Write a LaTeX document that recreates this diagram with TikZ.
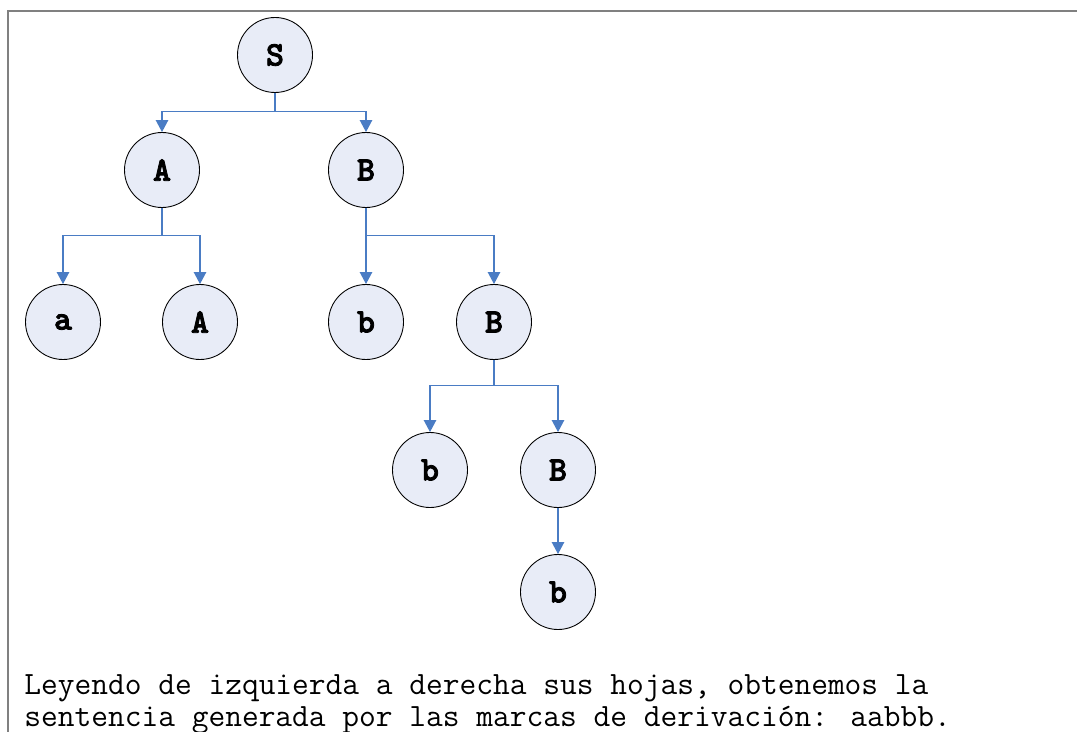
\documentclass[tikz,border=0pt]{standalone}
\usepackage{fontspec}
\newfontfamily\labelfont[FakeBold=2.4]{Latin Modern Mono Light}
\usetikzlibrary{arrows.meta}

\definecolor{nodefill}{HTML}{E8ECF7}
\definecolor{linkblue}{HTML}{4A7CC4}
\definecolor{framegray}{HTML}{808080}

\tikzstyle{symbol} = [circle, minimum size=1.5cm, inner sep=0pt, draw=black, line width=0.5pt, fill=nodefill, font=\labelfont\bfseries\fontsize{19.5}{21}\selectfont]
\tikzstyle{flow} = [linkblue, line width=0.6pt, -{Triangle[width=0.25cm,length=0.24cm]}]

\begin{document}
\begin{tikzpicture}[node distance=3.04cm]
      \useasboundingbox (0,0) rectangle (21.54,-14.64);
      \draw [framegray, line width=0.04cm] (0.16,-14.64) -- (0.16,-0.22) -- (21.54,-0.22);

      \node (s) [symbol] at (5.5,-1.1) {S};
      \node (a) [symbol, below of=s, yshift=0.74cm, xshift=-2.26cm] {A};
      \node (b) [symbol, below of=s, yshift=0.74cm, xshift=1.82cm] {B};
      \node (la) [symbol, below of=a, xshift=-1.98cm] {a};
      \node (aa) [symbol, below of=a, xshift=0.76cm] {A};
      \node (lb) [symbol, below of=b] {b};
      \node (bb) [symbol, below of=b, xshift=2.56cm] {B};
      \node (lb2) [symbol, below of=bb, yshift=0.08cm, xshift=-1.28cm] {b};
      \node (bbb) [symbol, below of=bb, yshift=0.08cm, xshift=1.28cm] {B};
      \node (lb3) [symbol, below of=bbb, yshift=0.6cm] {b};

      \draw [flow] (s.south) -- ++(0,-0.38) -| (a);
      \draw [flow] (s.south) -- ++(0,-0.38) -| (b);
      \draw [flow] (a.south) -- ++(0,-0.56) -| (la);
      \draw [flow] (a.south) -- ++(0,-0.56) -| (aa);
      \draw [flow] (b.south) -- ++(0,-0.56) -| (lb);
      \draw [flow] (b.south) -- ++(0,-0.56) -| (bb);
      \draw [flow] (bb.south) -- ++(0,-0.51) -| (lb2);
      \draw [flow] (bb.south) -- ++(0,-0.51) -| (bbb);
      \draw [flow] (bbb) -- (lb3);

      % the base anchor sits on the last line here
      \node (note) [anchor=base west, align=left, inner sep=0pt, font=\ttfamily\fontsize{18.5}{18.2}\selectfont] at (0.48,-14.52)
        {Leyendo de izquierda a derecha sus hojas, obtenemos la\\sentencia generada por las marcas de derivación: aabbb.};
\end{tikzpicture}
\end{document}
